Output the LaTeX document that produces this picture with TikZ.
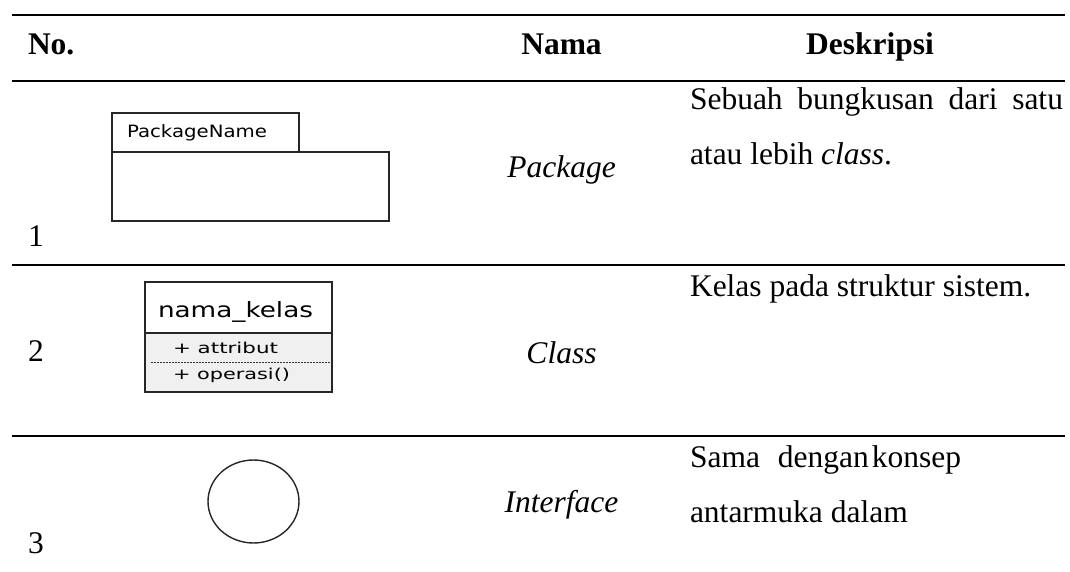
\documentclass[tikz,border=0pt]{standalone}
\usepackage{fontspec}
\usepackage{graphicx}
\setmainfont{Liberation Serif}
\newfontfamily\uifont{DejaVu Sans}
\newcommand{\fitw}[2]{\resizebox{#1}{\height}{#2}}
\begin{document}
\begin{tikzpicture}[x=1pt,y=-1pt,
  rule/.style={line width=2pt},
  shapeline/.style={line width=1.4pt,draw=black!85},
  txt/.style={inner sep=0pt,outer sep=0pt,anchor=base west,font=\fontsize{31.5}{38}\selectfont},
  hdr/.style={txt,font=\fontsize{31.5}{38}\selectfont\bfseries},
  nm/.style={inner sep=0pt,outer sep=0pt,anchor=base,font=\fontsize{31.5}{38}\selectfont\itshape},
  ui/.style={inner sep=0pt,outer sep=0pt,anchor=base west}]
\useasboundingbox (0,0) rectangle (1070,572);
% rules
\coordinate (r0l) at (12,15);   \coordinate (r0r) at (1065,15);
\coordinate (r1l) at (12,81);   \coordinate (r1r) at (1065,81);
\coordinate (r2l) at (12,265);  \coordinate (r2r) at (1065,265);
\coordinate (r3l) at (12,436);  \coordinate (r3r) at (1065,436);
\draw[rule] (r0l) -- (r0r);
\draw[rule] (r1l) -- (r1r);
\draw[rule] (r2l) -- (r2r);
\draw[rule] (r3l) -- (r3r);
% header
\node[hdr] (hno) at (28,55) {No.};
\node[hdr,anchor=base] (hnama) at (561.5,55) {Nama};
\node[hdr,anchor=base] (hdesk) at (870,55) {Deskripsi};
% row 1
\node[txt] (n1) at (28,246) {1};
\draw[shapeline] (112,113) rectangle (299,152);
\draw[shapeline] (112,152) rectangle (389,221);
\node[ui] (pkgname) at (127,138) {\uifont\fontsize{17}{20}\selectfont\fitw{140pt}{PackageName}};
\node[nm] (pkg) at (561.5,178) {Package};
\node[txt] (d1a) at (690,110) {\makebox[373pt][s]{Sebuah bungkusan dari satu}};
\node[txt] (d1b) at (690,165) {atau lebih \textit{class}.};
% row 2
\node[txt] (n2) at (28,361) {2};
\fill[black!6] (145,333) rectangle (332,392);
\draw[shapeline] (145,282) rectangle (332,392);
\draw[shapeline] (145,333) -- (332,333);
\draw[line width=0.8pt,dash pattern=on 2pt off 1pt,draw=black!80] (151,362) -- (330,362);
\node[ui] (cname) at (158,317) {\uifont\fontsize{21}{24}\selectfont\fitw{155pt}{nama\_kelas}};
\node[ui] (cattr) at (173,353) {\uifont\fontsize{15}{18}\selectfont\fitw{105pt}{+ attribut}};
\node[ui] (cop) at (173,379) {\uifont\fontsize{15}{18}\selectfont\fitw{117pt}{+ operasi()}};
\node[nm] (cls) at (561.5,363) {Class};
\node[txt] (d2a) at (690,296) {Kelas pada struktur sistem.};
% row 3
\node[txt] (n3) at (28,553) {3};
\draw[shapeline] (253.5,501.5) ellipse [x radius=45.5, y radius=41.5];
\node[nm] (intf) at (561.5,512) {Interface};
\node[txt] (d3a) at (690,467) {Sama\hspace{18pt}dengan\hspace{3pt}konsep};
\node[txt] (d3b) at (690,522) {antarmuka dalam};
\end{tikzpicture}
\end{document}
